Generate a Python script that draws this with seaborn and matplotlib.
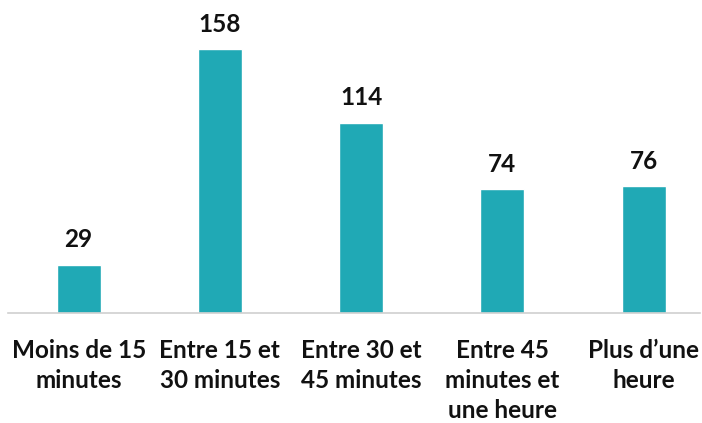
import matplotlib
matplotlib.use("Agg")
import matplotlib.pyplot as plt
import seaborn as sns
import pandas as pd

categories = ["Moins de 15\nminutes", "Entre 15 et\n30 minutes", "Entre 30 et\n45 minutes",
              "Entre 45\nminutes et\nune heure", "Plus d\u2019une\nheure"]
values = [29, 158, 114, 74, 76]

sns.set_theme(style="white")
plt.rcParams['font.family'] = ['Lato', 'DejaVu Sans']

df = pd.DataFrame({"cat": categories, "val": values})
fig = plt.figure(figsize=(7.02, 4.23), dpi=100)
ax = fig.add_axes([8/702, 110/423, 692/702, 313/423])
sns.barplot(data=df, x="cat", y="val", color="#20A9B5", width=0.31, saturation=1, ax=ax)
ax.set_xlim(-0.5, -0.5 + 692/141.25)
ax.set_ylim(0, 313/1.671)
for i, v in enumerate(values):
    ax.text(i, v + 8, str(v), ha="center", va="bottom", fontsize=17.5, fontweight="bold", color="#111111")
ax.set_xlabel("")
ax.set_ylabel("")
ax.set_yticks([])
for s in ["top", "right", "left"]:
    ax.spines[s].set_visible(False)
ax.spines["bottom"].set_color("#D0D0D0")
ax.spines["bottom"].set_linewidth(1.2)
ax.tick_params(axis="x", length=0, pad=19)
for lbl in ax.get_xticklabels():
    lbl.set_fontsize(17.5)
    lbl.set_fontweight("bold")
    lbl.set_color("#111111")
    lbl.set_linespacing(1.35)
    lbl.set_verticalalignment("top")
fig.savefig("out.png", dpi=100)
